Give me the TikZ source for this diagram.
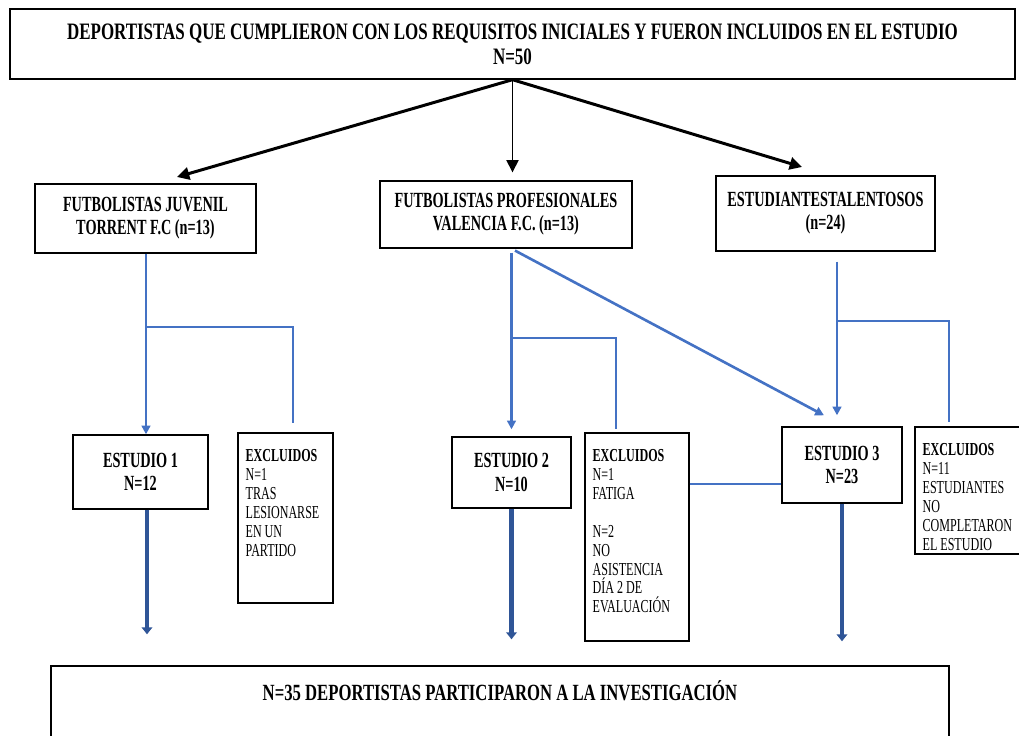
\documentclass[tikz,border=0pt]{standalone}
\usepackage{fontspec}
\setmainfont{Liberation Serif}[FakeStretch=0.66]
\newfontfamily\titlefont{Liberation Serif}[FakeStretch=0.72]
\usetikzlibrary{arrows.meta,calc}
\definecolor{azul}{HTML}{4472C4}
\definecolor{azulosc}{HTML}{2F5597}
\begin{document}
\begin{tikzpicture}[x=0.02cm, y=-0.02cm,
  caja/.style={draw, line width=0.8pt, align=center, inner sep=0pt, font=\fontsize{12.3}{13.2}\selectfont\bfseries},
  marco/.style={draw, line width=0.8pt, inner sep=0pt},
  excltxt/.style={align=left, inner sep=0pt, anchor=north west, font=\fontsize{10.4}{10.75}\selectfont},
  negra/.style={line width=1.7pt, -{Triangle[length=7pt,width=7pt]}},
  azulln/.style={azul, line width=1.3pt, -{Triangle[length=5pt,width=5pt]}},
  azulfino/.style={azul, line width=0.8pt},
  gruesa/.style={azulosc, line width=2.3pt, -{Triangle[length=4pt,width=6pt]}}]
\useasboundingbox (0,0) rectangle (1019,735);
\clip (0,0) rectangle (1019,735);

% cajas
\node[caja, font=\titlefont\fontsize{13.4}{14.2}\selectfont\bfseries, minimum width=20.1cm, minimum height=1.4cm] (titulo) at (512.5,44) {DEPORTISTAS QUE CUMPLIERON CON LOS REQUISITOS INICIALES Y FUERON INCLUIDOS EN EL ESTUDIO\\ N=50};
\node[caja, minimum width=4.42cm, minimum height=1.38cm] (juvenil) at (145.5,218.5) {FUTBOLISTAS JUVENIL\\ TORRENT F.C (n=13)};
\node[caja, minimum width=5.04cm, minimum height=1.34cm] (profes) at (506,214.5) {FUTBOLISTAS PROFESIONALES\\ VALENCIA F.C. (n=13)};
\node[caja, minimum width=4.38cm, minimum height=1.5cm] (talentos) at (825.5,213.5) {ESTUDIANTESTALENTOSOS\\ (n=24)};

\node[caja, minimum width=2.7cm, minimum height=1.48cm] (est1) at (140.5,472) {ESTUDIO 1\\ N=12};
\node[caja, minimum width=2.38cm, minimum height=1.42cm] (est2) at (511.5,472.5) {ESTUDIO 2\\ N=10};
\node[caja, minimum width=2.4cm, minimum height=1.52cm] (est3) at (842,465) {ESTUDIO 3\\ N=23};

\node[marco, minimum width=1.9cm, minimum height=3.4cm] (exc1) at (285.5,518) {};
\node[marco, minimum width=2.08cm, minimum height=4.16cm] (exc2) at (637,537) {};
\node[marco, minimum width=2.3cm, minimum height=2.54cm] (exc3) at (972.5,490.5) {};
\node[excltxt] (exc1t) at ([shift={(8,17)}]exc1.north west) {\textbf{EXCLUIDOS}\\ N=1\\ TRAS\\ LESIONARSE\\ EN UN\\ PARTIDO};
\node[excltxt] (exc2t) at ([shift={(8,17)}]exc2.north west) {\textbf{EXCLUIDOS}\\ N=1\\ FATIGA\\[10.75pt] N=2\\ NO\\ ASISTENCIA\\ DÍA 2 DE\\ EVALUACIÓN};
\node[excltxt] (exc3t) at ([shift={(8,17)}]exc3.north west) {\textbf{EXCLUIDOS}\\ N=11\\ ESTUDIANTES\\ NO\\ COMPLETARON\\ EL ESTUDIO};

\node[marco, minimum width=17.96cm, minimum height=2cm] (total) at (500,716) {};
\node[font=\titlefont\fontsize{13.2}{14}\selectfont\bfseries, inner sep=0pt] (totalt) at (500,691) {N=35 DEPORTISTAS PARTICIPARON A LA INVESTIGACIÓN};

% flechas negras
\coordinate (pA) at (177,177);
\coordinate (pC) at (802,167);
\draw[negra] (titulo.south) -- (pA);
\draw[negra, line width=0.8pt, shorten >=0.16cm] (titulo.south) -- (titulo.south |- profes.north);
\draw[negra] (titulo.south) -- (pC);

% lineas azules
\draw[azulln] ([shift={(0.5,0)}]juvenil.south) -- ([shift={(0.5,0)}]juvenil.south |- est1.north);
\draw[azulfino] ([shift={(0.5,0)}]juvenil.south |- 0,327) -| ([shift={(7.5,-9)}]exc1.north);

\coordinate (b0) at (est2.north |- profes.south);
\draw[azulln, shorten <=0.08cm, shorten >=0.14cm] (b0) -- (est2.north);
\draw[azulfino] (b0 |- 0,338) -| ([shift={(-21,-3)}]exc2.north);
\draw[azulln, line width=1.5pt, shorten <=0.08cm] (b0) -- ([shift={(-18,-11)}]est3.north);

\coordinate (c0) at ([shift={(11.5,10)}]talentos.south);
\draw[azulln, shorten >=0.22cm] (c0) -- (c0 |- est3.north);
\draw[azulfino] (c0 |- 0,321) -| ([shift={(-23.5,-4)}]exc3.north);

\coordinate (link) at ([shift={(0,19)}]est3.west);
\draw[azulfino] (exc2.east |- link) -- (link);

% hacia el total
\draw[gruesa, shorten >=0.62cm] ([shift={(6.5,0)}]est1.south) -- ([shift={(6.5,0)}]est1.south |- total.north);
\draw[gruesa, shorten >=0.52cm] (est2.south) -- (est2.south |- total.north);
\draw[gruesa, shorten >=0.48cm] (est3.south) -- (est3.south |- total.north);
\end{tikzpicture}
\end{document}
